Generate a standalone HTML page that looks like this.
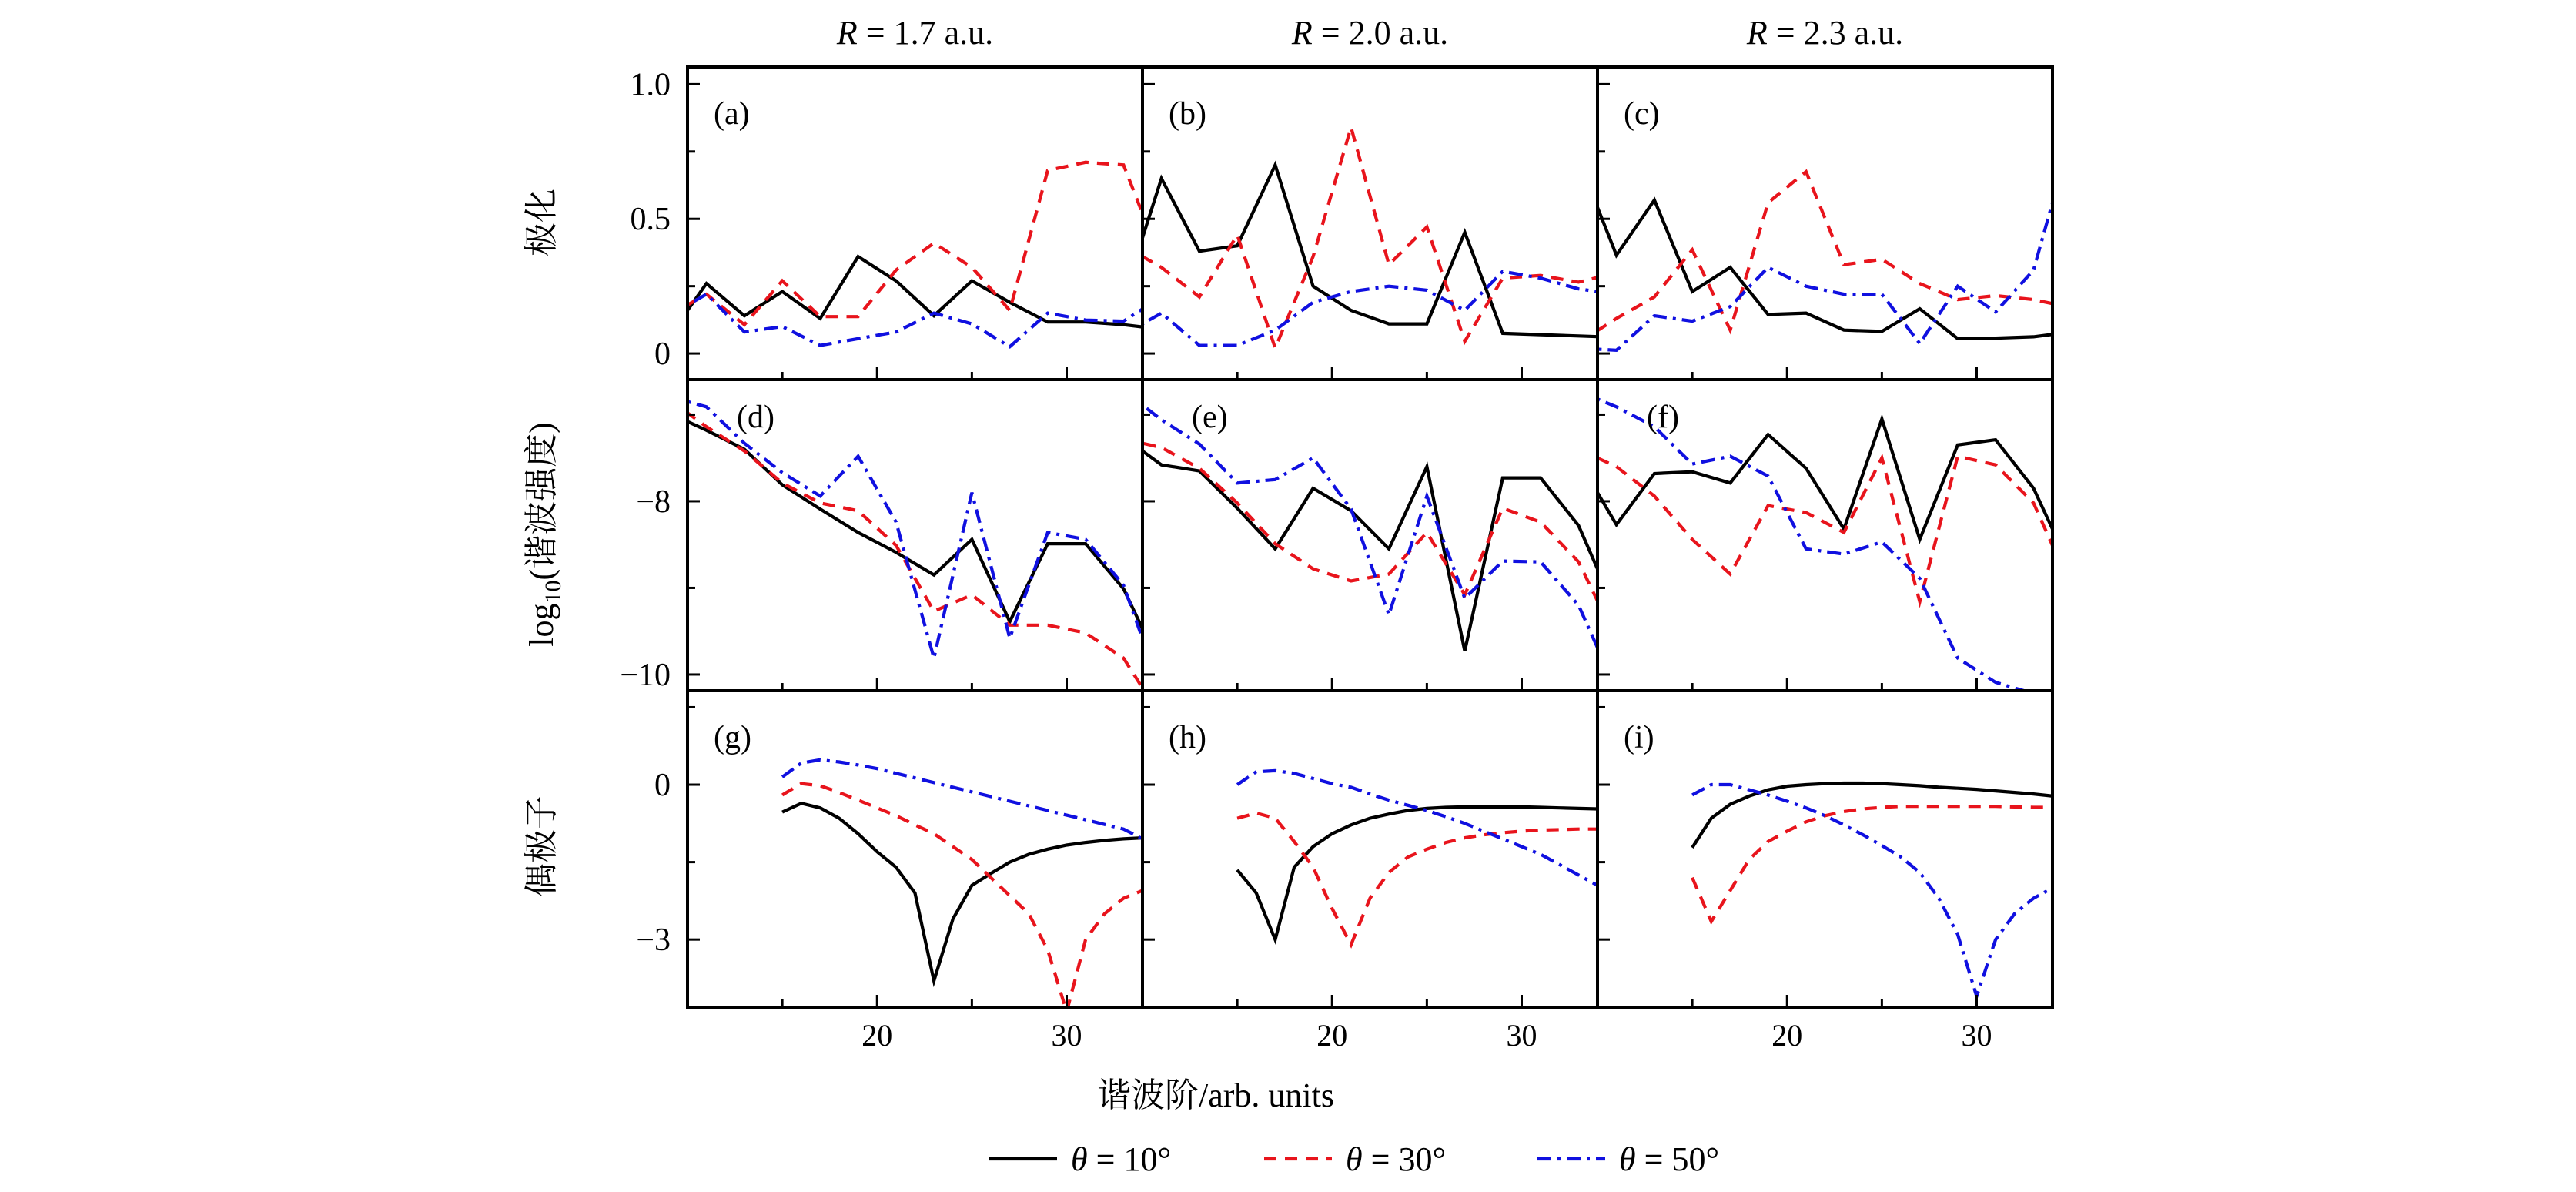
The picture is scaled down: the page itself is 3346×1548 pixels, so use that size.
<!DOCTYPE html>
<html><head><meta charset="utf-8">
<style>
html,body{margin:0;padding:0;background:#fff;}
svg{display:block;}
text{font-family:"Liberation Serif","Noto Serif CJK SC",serif;fill:#000;}
.cjk{font-family:"Liberation Serif","Noto Serif CJK SC","Noto Sans CJK SC",serif;}
</style></head>
<body>
<svg id="chart" width="3346" height="1548" viewBox="0 0 3346 1548" xmlns="http://www.w3.org/2000/svg">
<defs id="defs"></defs>
<g id="root"></g>
</svg>
<script>
// ---- data ----
const ordersTop = [9,11,13,15,17,19,21,23,25,27,29,31,33,35];
const ordersDip = [15,16,17,18,19,20,21,22,23,24,25,26,27,28,29,30,31,32,33,34];
const columnTitles = ["1.7","2.0","2.3"];
const panelLabels = ["(a)","(b)","(c)","(d)","(e)","(f)","(g)","(h)","(i)"];
const legendLabels = ["θ = 10°","θ = 30°","θ = 50°"];
const xTickValues = [15,20,25,30];
const xTickLabels = ["","20","","30"];
const row1Ticks = [0,0.25,0.5,0.75,1.0];
const row1TickLabels = ["0","","0.5","","1.0"];
const row2Ticks = [-10,-9,-8,-7];
const row2TickLabels = ["−10","","−8",""];
const row3Ticks = [-3,-1.5,0,1.5];
const row3TickLabels = ["−3","","0",""];

// polarization (a,b,c): black, red, blue
const polA_k = [0.06,0.26,0.14,0.23,0.13,0.36,0.27,0.14,0.27,0.19,0.117,0.117,0.107,0.09];
const polA_r = [0.14,0.22,0.107,0.27,0.137,0.137,0.31,0.41,0.32,0.16,0.68,0.71,0.70,0.34];
const polA_b = [0.14,0.22,0.08,0.10,0.03,0.055,0.08,0.15,0.11,0.025,0.15,0.124,0.12,0.21];
const polB_k = [0.21,0.65,0.38,0.40,0.70,0.25,0.16,0.11,0.11,0.45,0.075,0.07,0.065,0.06];
const polB_r = [0.40,0.32,0.21,0.44,0.02,0.36,0.84,0.33,0.47,0.045,0.28,0.29,0.265,0.30];
const polB_b = [0.07,0.15,0.03,0.03,0.087,0.19,0.23,0.25,0.235,0.16,0.305,0.28,0.24,0.22];
const polC_k = [0.72,0.365,0.57,0.23,0.32,0.145,0.15,0.087,0.082,0.166,0.055,0.057,0.062,0.08];
const polC_r = [0.04,0.13,0.21,0.385,0.087,0.56,0.675,0.33,0.35,0.26,0.20,0.215,0.20,0.17];
const polC_b = [0.02,0.012,0.14,0.12,0.174,0.32,0.25,0.22,0.22,0.037,0.25,0.154,0.31,0.81];
// log10 intensity (d,e,f)
const intD_k = [-6.98,-7.18,-7.40,-7.81,-8.09,-8.36,-8.59,-8.85,-8.44,-9.39,-8.49,-8.49,-9.01,-9.93];
const intD_r = [-6.82,-7.14,-7.42,-7.79,-8.02,-8.11,-8.51,-9.27,-9.08,-9.43,-9.43,-9.52,-9.81,-10.5];
const intD_b = [-6.79,-6.91,-7.33,-7.67,-7.94,-7.48,-8.24,-9.81,-7.90,-9.58,-8.36,-8.44,-8.97,-10.2];
const intE_k = [-7.26,-7.58,-7.65,-8.08,-8.55,-7.85,-8.11,-8.55,-7.60,-9.73,-7.73,-7.73,-8.28,-9.28];
const intE_r = [-7.28,-7.38,-7.62,-8.02,-8.49,-8.78,-8.92,-8.84,-8.36,-9.08,-8.08,-8.24,-8.70,-9.6];
const intE_b = [-6.72,-7.06,-7.34,-7.79,-7.75,-7.50,-8.09,-9.31,-7.94,-9.12,-8.69,-8.70,-9.20,-10.18];
const intF_k = [-7.53,-8.27,-7.68,-7.66,-7.79,-7.23,-7.62,-8.32,-7.05,-8.44,-7.35,-7.29,-7.85,-8.79];
const intF_r = [-7.40,-7.60,-7.94,-8.44,-8.84,-8.05,-8.13,-8.36,-7.50,-9.16,-7.48,-7.58,-8.02,-9.0];
const intF_b = [-6.73,-6.91,-7.14,-7.57,-7.48,-7.71,-8.55,-8.61,-8.47,-8.89,-9.81,-10.09,-10.22,-10.35];
// dipole (g,h,i)
const dipG_k = [-0.53,-0.36,-0.45,-0.65,-0.95,-1.3,-1.6,-2.1,-3.8,-2.6,-1.95,-1.72,-1.5,-1.35,-1.25,-1.17,-1.12,-1.08,-1.05,-1.03];
const dipG_r = [-0.2,0.02,-0.02,-0.15,-0.3,-0.45,-0.6,-0.78,-0.95,-1.2,-1.45,-1.8,-2.15,-2.5,-3.2,-4.4,-3.0,-2.5,-2.2,-2.05];
const dipG_b = [0.15,0.42,0.48,0.44,0.38,0.31,0.22,0.13,0.04,-0.05,-0.14,-0.23,-0.32,-0.41,-0.5,-0.59,-0.68,-0.77,-0.86,-1.05];
const dipH_k = [-1.65,-2.1,-3.0,-1.6,-1.2,-0.95,-0.78,-0.65,-0.57,-0.5,-0.46,-0.44,-0.43,-0.43,-0.43,-0.43,-0.44,-0.45,-0.46,-0.47];
const dipH_r = [-0.65,-0.55,-0.65,-1.1,-1.6,-2.4,-3.1,-2.2,-1.7,-1.4,-1.25,-1.12,-1.03,-0.97,-0.93,-0.9,-0.88,-0.87,-0.86,-0.86];
const dipH_b = [0.0,0.25,0.27,0.22,0.12,0.02,-0.05,-0.18,-0.3,-0.4,-0.5,-0.62,-0.75,-0.9,-1.05,-1.2,-1.35,-1.55,-1.75,-1.95];
const dipI_k = [-1.22,-0.65,-0.38,-0.22,-0.1,-0.03,0.0,0.02,0.03,0.03,0.02,0.0,-0.02,-0.05,-0.07,-0.09,-0.12,-0.15,-0.18,-0.22];
const dipI_r = [-1.8,-2.65,-2.05,-1.45,-1.1,-0.9,-0.72,-0.6,-0.52,-0.47,-0.44,-0.42,-0.42,-0.42,-0.42,-0.42,-0.42,-0.43,-0.44,-0.44];
const dipI_b = [-0.2,0.0,0.0,-0.1,-0.2,-0.32,-0.45,-0.6,-0.78,-0.97,-1.18,-1.4,-1.7,-2.2,-2.9,-4.1,-3.0,-2.5,-2.2,-2.0];

const panelSeries = [
  [polA_k,polA_r,polA_b],[polB_k,polB_r,polB_b],[polC_k,polC_r,polC_b],
  [intD_k,intD_r,intD_b],[intE_k,intE_r,intE_b],[intF_k,intF_r,intF_b],
  [dipG_k,dipG_r,dipG_b],[dipH_k,dipH_r,dipH_b],[dipI_k,dipI_r,dipI_b]
];

// ---- layout ----
const NS="http://www.w3.org/2000/svg";
const root=document.getElementById('root');
const defs=document.getElementById('defs');
const colX=[893,1484,2075], panelW=591;
const rowY=[87,493,897], rowH=[406,404,411];
const xMin=10, xMax=34;
const yDomains=[[-0.097,1.064],[-10.187,-6.596],[-4.31,1.82]];
const rowTicks=[row1Ticks,row2Ticks,row3Ticks];
const rowTickLabels=[row1TickLabels,row2TickLabels,row3TickLabels];
const colors=["#000000","#e8141c","#1010e0"];
const dashes=["none","16 11","18 8 4 8"];
const seriesNames=["theta-10","theta-30","theta-50"];

function mk(tag,attrs,parent){const e=document.createElementNS(NS,tag);for(const k in attrs)e.setAttribute(k,attrs[k]);(parent||root).appendChild(e);return e;}

for(let r=0;r<3;r++){
  for(let c=0;c<3;c++){
    const idx=r*3+c;
    const x0=colX[c], y0=rowY[r], h=rowH[r];
    const dom=yDomains[r];
    const sx=v=>x0+(v-xMin)/(xMax-xMin)*panelW;
    const sy=v=>y0+h-(v-dom[0])/(dom[1]-dom[0])*h;
    const g=mk('g',{});
    
    
    const cp=mk('clipPath',{id:'clip'+idx},defs);
    mk('rect',{x:x0,y:y0,width:panelW,height:h},cp);
    const xs = r<2 ? ordersTop : ordersDip;
    panelSeries[idx].forEach((vals,s)=>{
      const pts=vals.map((v,i)=>sx(xs[i]).toFixed(1)+','+sy(v).toFixed(1)).join(' ');
      const pl=mk('polyline',{points:pts,fill:'none',stroke:colors[s],'stroke-width':4.2,'stroke-dasharray':dashes[s],'stroke-linejoin':'miter','clip-path':'url(#clip'+idx+')'},g);
      
      
    });
    xTickValues.forEach((v,i)=>{
      const len = xTickLabels[i]? 16:10;
      mk('line',{x1:sx(v),x2:sx(v),y1:y0+h,y2:y0+h-len,stroke:'#000','stroke-width':3},g);
      if(r===2 && xTickLabels[i]){
        const t=mk('text',{x:sx(v),y:1358,'font-size':40,'text-anchor':'middle'},g);
        t.textContent=xTickLabels[i];
        
        
      }
    });
    rowTicks[r].forEach((v,i)=>{
      const lab=rowTickLabels[r][i];
      const len = lab? 16:10;
      mk('line',{x1:x0,x2:x0+len,y1:sy(v),y2:sy(v),stroke:'#000','stroke-width':3},g);
      if(c===0 && lab){
        const t=mk('text',{x:871,y:sy(v)+14,'font-size':42,'text-anchor':'end'},g);
        t.textContent=lab;
        
        
      }
    });
    mk('rect',{x:x0,y:y0,width:panelW,height:h,fill:'none',stroke:'#000','stroke-width':4},g);
    const lx = r===1 ? x0+64 : x0+34;
    const ly = r===1 ? y0+62 : y0+74;
    const pt=mk('text',{x:lx,y:ly,'font-size':42},g);
    pt.textContent=panelLabels[idx];
    
    
  }
}
columnTitles.forEach((v,c)=>{
  const t=mk('text',{x:colX[c]+panelW/2,y:57,'font-size':44,'text-anchor':'middle'});
  t.innerHTML='<tspan font-style="italic">R</tspan> = '+v+' a.u.';
  
  
});
const yTitles=[["极化",289],["log₁₀(谐波强度)",694],["偶极子",1099]];
yTitles.forEach(([s,cy],i)=>{
  const t=mk('text',{x:0,y:0,'font-size':44,'text-anchor':'middle',class:'cjk',transform:'translate(718,'+cy+') rotate(-90)'});
  if(i===1){t.innerHTML='log<tspan font-size="30" dy="10">10</tspan><tspan dy="-10">(谐波强度)</tspan>';}
  else t.textContent=s;
  
  
});
const xt=mk('text',{x:1579,y:1437,'font-size':44,'text-anchor':'middle',class:'cjk'});
xt.textContent='谐波阶/arb. units';


const legX=[1285,1642,1997];
legendLabels.forEach((s,i)=>{
  const g=mk('g',{});
  
  
  mk('line',{x1:legX[i],x2:legX[i]+88,y1:1505,y2:1505,stroke:colors[i],'stroke-width':4.2,'stroke-dasharray':dashes[i]},g);
  const t=mk('text',{x:legX[i]+106,y:1520,'font-size':44},g);
  t.innerHTML='<tspan font-style="italic">θ</tspan>'+s.slice(1);
});
</script>
</body></html>
